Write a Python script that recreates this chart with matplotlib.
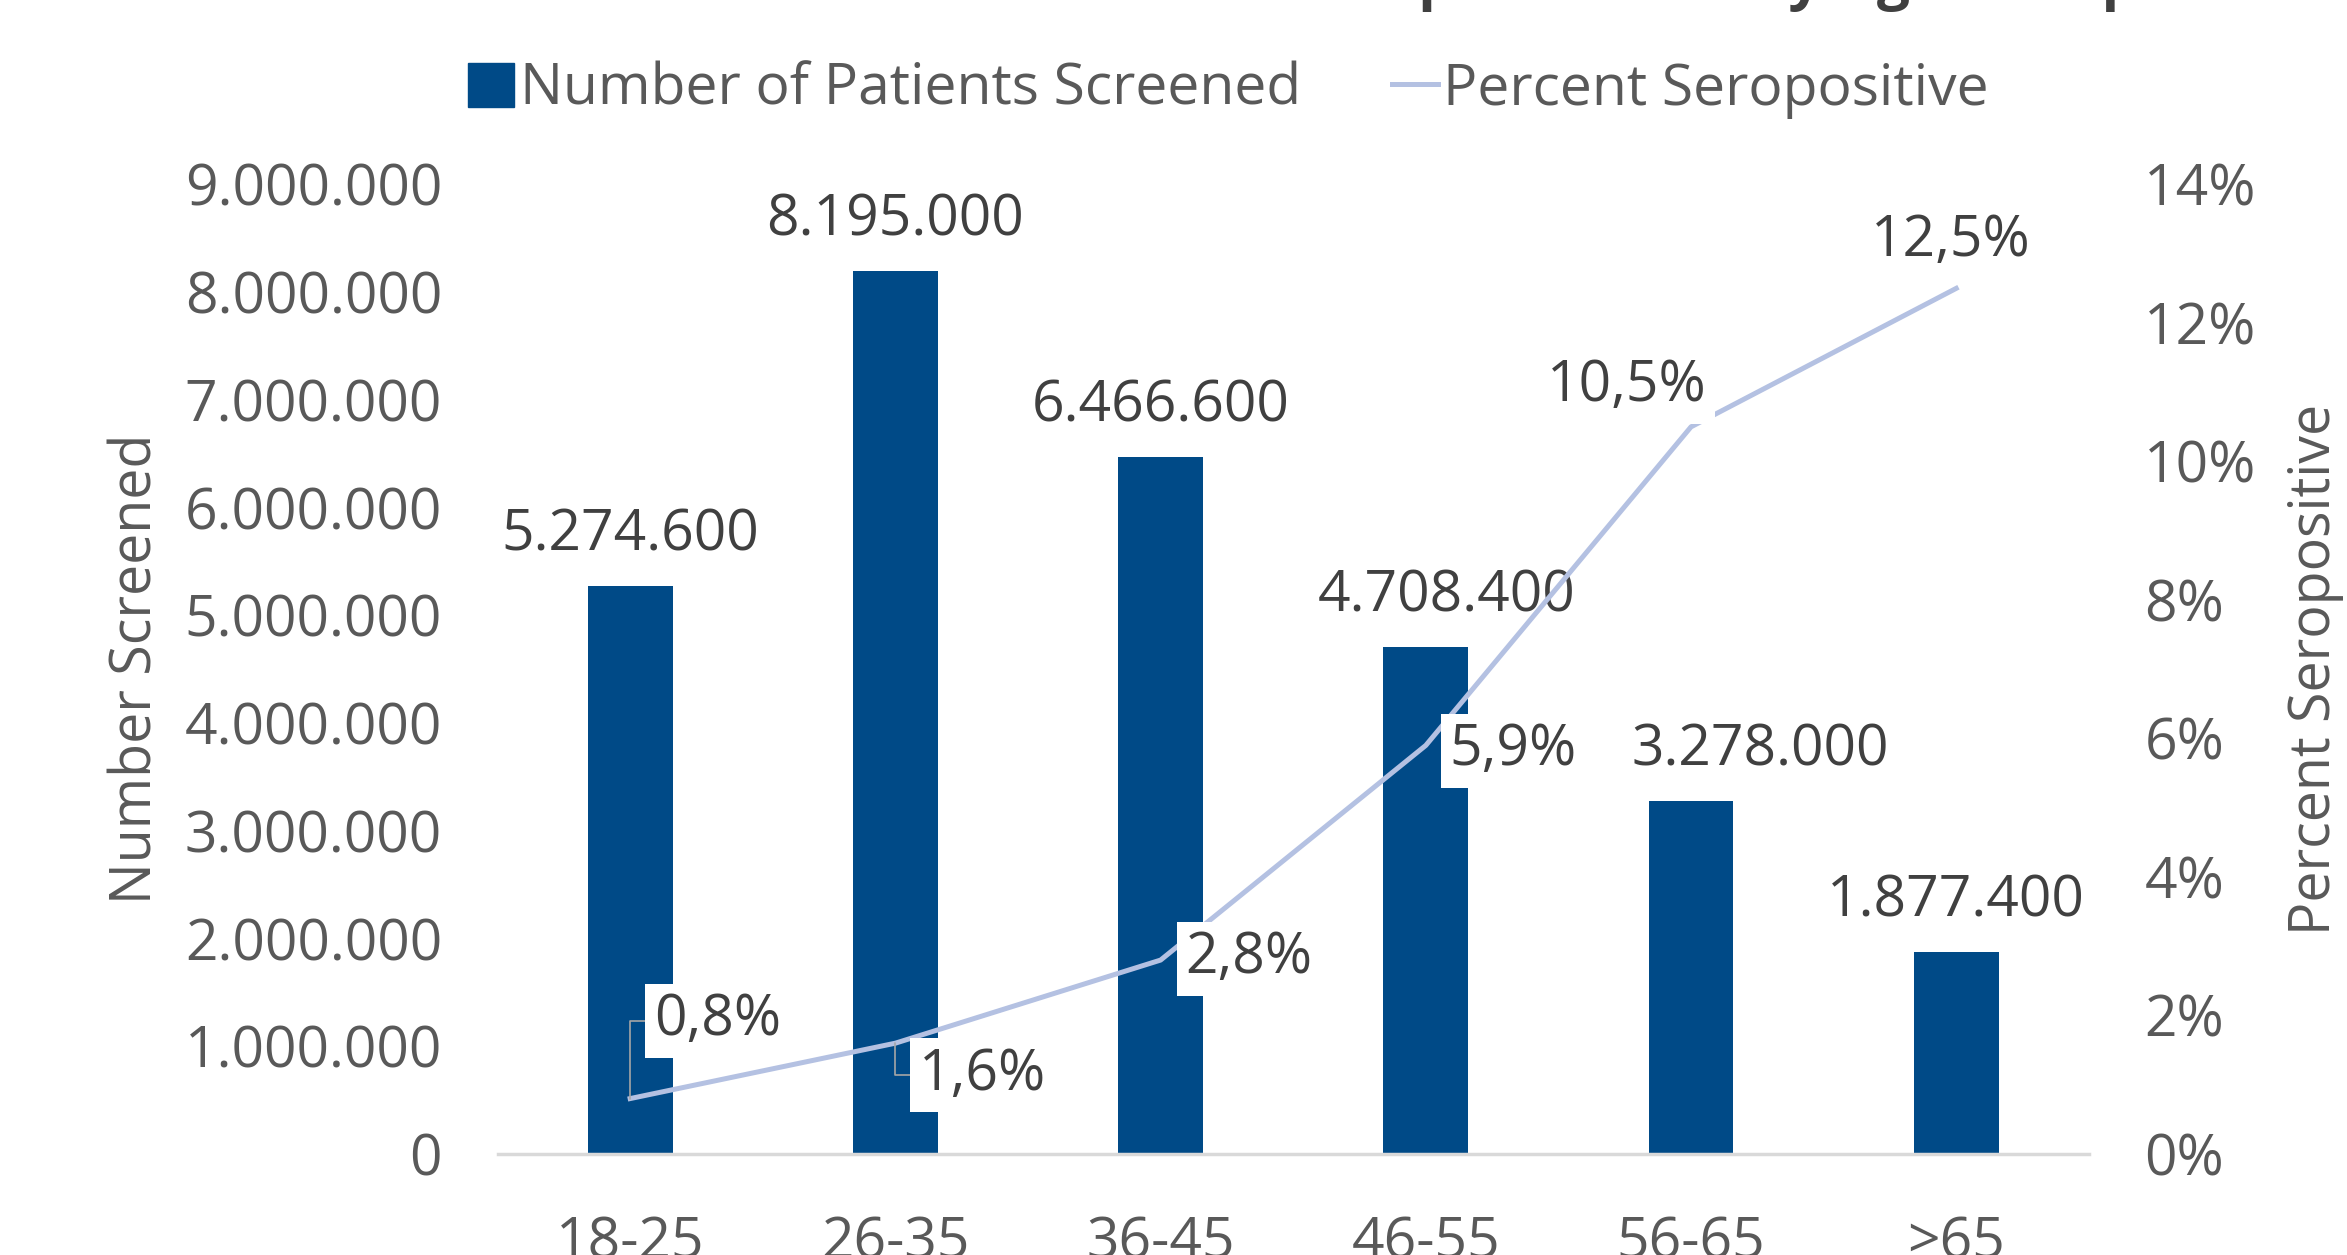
import matplotlib
matplotlib.use("Agg")
import matplotlib.pyplot as plt
from matplotlib.patches import Patch
from matplotlib.lines import Line2D
from matplotlib.ticker import FuncFormatter

# Data
age_groups = ["18-25", "26-35", "36-45", "46-55", "56-65", ">65"]
patients = [5274600, 8195000, 6466600, 4708400, 3278000, 1877400]
seropositive = [0.8, 1.6, 2.8, 5.9, 10.5, 12.5]

title = "Number of Patients Screened and Seroprevalence by Age Group"

# Styles
bar_color = "#004A87"
line_color = "#B4C1E2"
tick_color = "#595959"
label_color = "#404040"
fs = 41

plt.rcParams["font.family"] = ["Open Sans", "DejaVu Sans"]

fig = plt.figure(figsize=(23.47, 12.55), dpi=100)
ax = fig.add_axes([0.212, 0.0805, 0.678, 0.7725])
ax2 = ax.twinx()

x = list(range(len(age_groups)))

# Bars
ax.bar(x, patients, width=0.32, color=bar_color, zorder=2)
ax.set_xlim(-0.5, len(age_groups) - 0.5)
ax.set_ylim(0, 9000000)
ax.set_yticks(range(0, 9000001, 1000000))
ax.yaxis.set_major_formatter(FuncFormatter(lambda v, p: f"{int(v):,}".replace(",", ".")))
ax.set_xticks(x)
ax.set_xticklabels(age_groups)
ax.tick_params(axis="both", length=0, labelsize=fs, labelcolor=tick_color)
ax.tick_params(axis="x", pad=44)
ax.tick_params(axis="y", pad=40)
ax.set_ylabel("Number Screened", fontsize=40, color=tick_color, labelpad=14)

for s in ["top", "right", "left"]:
    ax.spines[s].set_visible(False)
ax.spines["bottom"].set_color("#D9D9D9")
ax.spines["bottom"].set_linewidth(2.5)

bar_dx = [0, 0, 0, 15, 50, 0]
for xi, v, dx in zip(x, patients, bar_dx):
    ax.annotate(f"{v:,}".replace(",", "."), (xi, v), xytext=(dx, 36),
                textcoords="offset points", ha="center", va="center",
                fontsize=fs, color=label_color)

# Line on secondary axis
ax2.plot(x, seropositive, color=line_color, lw=3.6, zorder=2)
ax2.set_ylim(0, 14)
ax2.set_yticks(range(0, 15, 2))
ax2.yaxis.set_major_formatter(FuncFormatter(lambda v, p: f"{int(v)}%"))
ax2.tick_params(axis="y", length=0, labelsize=fs, labelcolor=tick_color, pad=40)
ax2.set_ylabel("Percent Seropositive", fontsize=40, color=tick_color,
               rotation=90, labelpad=22)
for s in ["top", "right", "left", "bottom"]:
    ax2.spines[s].set_visible(False)

pct_offsets = [(17, 56, "left"), (17, -23, "left"), (18, 1, "left"),
               (17, -4, "left"), (11, 29, "right"), (-4, 34, "center")]
for i, (xi, v) in enumerate(zip(x, seropositive)):
    dx, dy, ha = pct_offsets[i]
    props = None
    if i < 2:
        props = dict(arrowstyle="-", color="#A6A6A6", lw=1.2,
                     connectionstyle="angle,angleA=180,angleB=90,rad=0",
                     shrinkA=0, shrinkB=0)
    ax2.annotate(f"{v:.1f}%".replace(".", ","), (xi, v), xytext=(dx, dy),
                 textcoords="offset points", ha=ha, va="center",
                 fontsize=fs, color=label_color, arrowprops=props,
                 bbox=dict(boxstyle="square,pad=0.15", fc="white", ec="none"),
                 zorder=5)

# Legend
handles = [Patch(color=bar_color), Line2D([], [], color=line_color, lw=3.6)]
fig.legend(handles, ["Number of Patients Screened", "Percent Seropositive"],
           loc="center", bbox_to_anchor=(0.5235, 0.928), ncol=2, frameon=False,
           fontsize=fs, labelcolor=tick_color, handlelength=0.8,
           handleheight=0.8, handletextpad=0.1, columnspacing=1.6)

# Title (mostly above the visible area)
fig.text(0.911, 1.0016, title, ha="right", va="baseline", fontsize=42,
         fontweight="bold", color=label_color)

fig.savefig("out.png", dpi=100)
